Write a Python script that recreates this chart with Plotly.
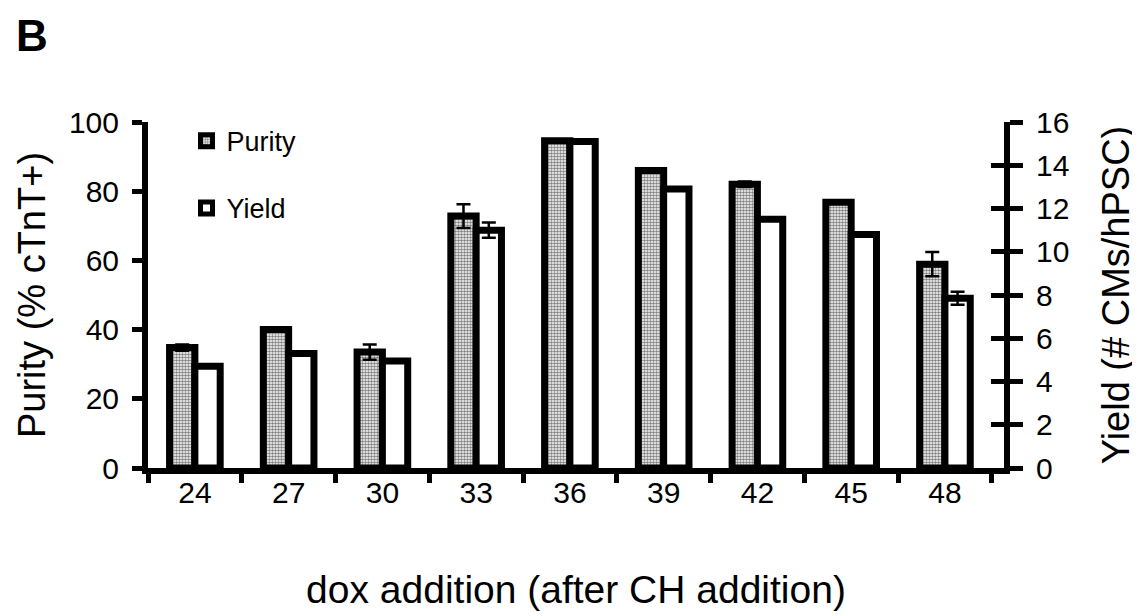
import plotly.graph_objects as go

categories = ["24", "27", "30", "33", "36", "39", "42", "45", "48"]
purity = [34.8, 40.0, 33.5, 72.8, 94.6, 86.0, 82.0, 76.8, 58.9]
purity_err = [0.9, 0.5, 2.2, 3.4, 0.0, 0.0, 0.8, 0.0, 3.5]
yield_vals = [4.7, 5.3, 4.95, 11.0, 15.1, 12.9, 11.5, 10.8, 7.85]
yield_err = [0.0, 0.0, 0.0, 0.35, 0.0, 0.0, 0.0, 0.0, 0.3]
purity_ticks = [0, 20, 40, 60, 80, 100]
yield_ticks = [0, 2, 4, 6, 8, 10, 12, 14, 16]

FONT = "Liberation Sans, Arial, sans-serif"
BW = 0.27
XR = [-0.5, 8.63]

fig = go.Figure()
fig.add_trace(go.Bar(
    x=categories, y=purity, name="Purity", yaxis="y", legendgroup="p",
    width=BW, offset=-BW,
    marker=dict(color="#a0a0a0",
                pattern=dict(shape=".", fgcolor="#000000", bgcolor="#ffffff", size=3, solidity=0.55),
                line=dict(color="black", width=7)),
    error_y=dict(type="data", array=purity_err, color="black", thickness=2.5, width=7, visible=True),
))
fig.add_trace(go.Bar(
    x=categories, y=yield_vals, name="Yield", yaxis="y2", legendgroup="y",
    width=BW, offset=0,
    marker=dict(color="white", line=dict(color="black", width=7)),
    error_y=dict(type="data", array=yield_err, color="black", thickness=2.5, width=7, visible=True),
))
# invisible trace to activate the overlay axes (boundary ticks, inner right ticks)
fig.add_trace(go.Scatter(x=[categories[0]], y=[0], xaxis="x2", yaxis="y3", mode="markers",
                         marker=dict(opacity=0), showlegend=False, hoverinfo="skip"))

fig.update_layout(
    width=1140, height=616,
    margin=dict(l=140, r=144, t=114, b=156, autoexpand=False),
    paper_bgcolor="white", plot_bgcolor="white",
    font=dict(family=FONT, color="black", size=30),
    showlegend=True,
    legend=dict(x=0.045, y=1.015, xanchor="left", yanchor="top", font=dict(size=27),
                tracegroupgap=29, bgcolor="rgba(0,0,0,0)"),
    xaxis=dict(type="category", range=XR, ticks="",
               showline=True, linewidth=6, linecolor="black", showgrid=False,
               tickfont=dict(size=30), ticklabelstandoff=-7,
               title=dict(text="dox addition (after CH addition)", font=dict(size=39), standoff=70)),
    xaxis2=dict(type="category", categoryarray=categories, categoryorder="array", range=XR,
                overlaying="x", anchor="y", side="bottom", tickson="boundaries",
                ticks="outside", ticklen=14, tickwidth=5, tickcolor="black",
                showticklabels=False, showline=False, showgrid=False),
    yaxis=dict(range=[0, 100], tickvals=purity_ticks, ticks="outside", ticklen=10, tickwidth=5,
               tickcolor="black", showline=True, linewidth=6, linecolor="black", showgrid=False,
               zeroline=False, tickfont=dict(size=30), ticklabelstandoff=7,
               title=dict(text="Purity (% cTnT+)", font=dict(size=38), standoff=14)),
    yaxis2=dict(range=[0, 16], tickvals=yield_ticks, overlaying="y", side="right", anchor="x",
                ticks="outside", ticklen=13, tickwidth=5, tickcolor="black",
                showline=True, linewidth=6, linecolor="black", showgrid=False, zeroline=False,
                tickfont=dict(size=30), ticklabelstandoff=7,
                title=dict(text="Yield (# CMs/hPSC)", font=dict(size=38), standoff=36)),
    yaxis3=dict(range=[0, 16], tickvals=yield_ticks, overlaying="y", side="right", anchor="x",
                ticks="inside", ticklen=13, tickwidth=5, tickcolor="black",
                showticklabels=False, showline=False, showgrid=False, zeroline=False),
    annotations=[dict(text="<b>B</b>", xref="paper", yref="paper", x=-0.155, y=1.325,
                      xanchor="left", yanchor="top", showarrow=False, borderpad=0,
                      font=dict(size=44, family=FONT))],
)

fig.write_html("out.html")
